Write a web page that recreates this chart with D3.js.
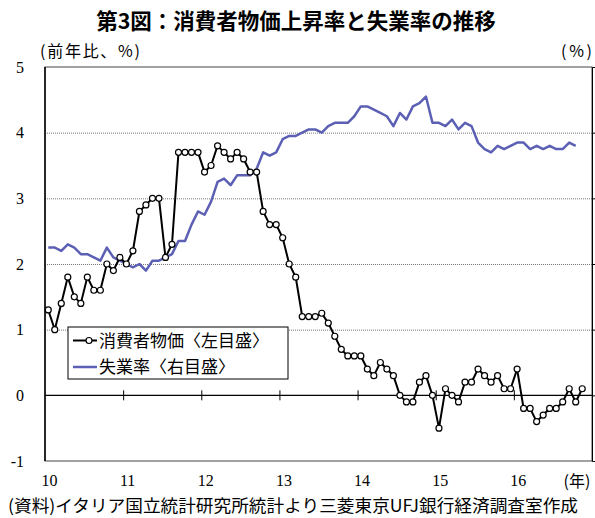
<!DOCTYPE html>
<html>
<head>
<meta charset="utf-8">
<script src="https://cdn.jsdelivr.net/npm/d3@7"></script>
<style>
    body { margin: 0; background: #fff; }
    svg text { fill: #000; }
    .jp { font-family: "Noto Sans CJK JP", sans-serif; }
</style>
</head>
<body>
<div id="chart"></div>
<script>
// monthly data, 2010/1 -
const years = ["10", "11", "12", "13", "14", "15", "16"];
// consumer prices, % yoy (left scale)
const cpi = [1.3, 1.0, 1.4, 1.8, 1.5, 1.4, 1.8, 1.6, 1.6, 2.0, 1.9, 2.1,
    2.0, 2.2, 2.8, 2.9, 3.0, 3.0, 2.1, 2.3, 3.7, 3.7, 3.7, 3.7,
    3.4, 3.5, 3.8, 3.7, 3.6, 3.7, 3.6, 3.4, 3.4, 2.8, 2.6, 2.6,
    2.4, 2.0, 1.8, 1.2, 1.2, 1.2, 1.25, 1.1, 0.9, 0.7, 0.6, 0.6,
    0.6, 0.4, 0.3, 0.5, 0.4, 0.3, 0.0, -0.1, -0.1, 0.2, 0.3, 0.0,
    -0.5, 0.1, 0.0, -0.1, 0.2, 0.2, 0.4, 0.3, 0.2, 0.3, 0.1, 0.1,
    0.4, -0.2, -0.2, -0.4, -0.3, -0.2, -0.2, -0.1, 0.1, -0.1, 0.1];
// unemployment rate, % (right scale)
const unemp = [8.5, 8.5, 8.4, 8.6, 8.5, 8.3, 8.3, 8.2, 8.1, 8.5, 8.2, 8.1,
    8.0, 7.9, 8.0, 7.8, 8.1, 8.1, 8.2, 8.3, 8.7, 8.7, 9.2, 9.6,
    9.5, 9.9, 10.5, 10.6, 10.4, 10.7, 10.7, 10.7, 10.9, 11.4, 11.3, 11.4,
    11.8, 11.9, 11.9, 12.0, 12.1, 12.1, 12.0, 12.2, 12.3, 12.3, 12.3, 12.5,
    12.8, 12.8, 12.7, 12.6, 12.5, 12.2, 12.6, 12.4, 12.8, 12.9, 13.1, 12.3,
    12.3, 12.2, 12.4, 12.1, 12.3, 12.2, 11.7, 11.5, 11.4, 11.6, 11.5, 11.6,
    11.7, 11.7, 11.5, 11.6, 11.5, 11.6, 11.5, 11.5, 11.7, 11.6];
const leftTicks = [-1, 0, 1, 2, 3, 4, 5];

const W = 595, H = 518;
const plot = { left: 45, right: 592, top: 67, bottom: 461 };
const serif = "'Liberation Serif', 'Times New Roman', serif";

let svg = d3.select("#chart").append("svg")
    .attr("width", W)
    .attr("height", H);

let x = d3.scaleLinear().domain([0, 84]).range([plot.left, plot.right]);
let y = d3.scaleLinear().domain([-1, 5]).range([plot.bottom, plot.top]);
let y2 = d3.scaleLinear().domain([2, 14]).range([plot.bottom, plot.top]);

// title
svg.append("text")
    .attr("class", "jp")
    .attr("x", 296)
    .attr("y", 29)
    .attr("text-anchor", "middle")
    .style("font-size", "21.5px")
    .style("font-weight", "bold")
    .text("第3図：消費者物価上昇率と失業率の推移");

svg.append("text")
    .attr("class", "jp")
    .attr("x", 40)
    .attr("y", 57)
    .attr("textLength", 100)
    .attr("lengthAdjust", "spacing")
    .style("font-size", "16px")
    .text("(前年比、%)");
svg.append("text")
    .attr("class", "jp")
    .attr("x", 561)
    .attr("y", 57)
    .attr("textLength", 31)
    .attr("lengthAdjust", "spacing")
    .style("font-size", "16px")
    .text("(%)");

// gridlines
svg.append("g")
    .attr("transform", "translate(" + plot.left + ",0)")
    .call(d3.axisLeft(y).tickValues([1, 2, 3, 4]).tickSize(-(plot.right - plot.left)).tickFormat(""))
    .call(g => g.select(".domain").remove())
    .selectAll("line")
    .attr("stroke", "#777")
    .attr("stroke-dasharray", "1,1");

// left tick labels
svg.append("g")
    .attr("transform", "translate(" + plot.left + ",0)")
    .call(d3.axisLeft(y).tickValues(leftTicks).tickSize(0).tickPadding(21).tickFormat(d => String(d)))
    .attr("font-family", serif)
    .attr("font-size", 16)
    .call(g => g.select(".domain").remove())
    .selectAll("text")
    .attr("fill", "#000");

// frame
svg.append("rect")
    .attr("x", plot.left)
    .attr("y", plot.top)
    .attr("width", plot.right - plot.left)
    .attr("height", plot.bottom - plot.top)
    .attr("fill", "none")
    .attr("stroke", "#444")
    .attr("stroke-width", 1);
svg.append("line")
    .attr("x1", plot.left).attr("x2", plot.left)
    .attr("y1", plot.top).attr("y2", plot.bottom)
    .attr("stroke", "#000")
    .attr("stroke-width", 1.5);

// right axis (no labels)
svg.append("g")
    .attr("transform", "translate(" + plot.right + ",0)")
    .call(d3.axisRight(y2).tickValues([4, 6, 8, 10, 12]).tickSize(3).tickFormat(""))
    .call(g => g.select(".domain").attr("stroke", "#000"));

// zero line with year ticks
let xAxis = svg.append("g")
    .attr("transform", "translate(0," + y(0) + ")")
    .call(d3.axisBottom(x).tickValues([12, 24, 36, 48, 60, 72]).tickSize(5).tickFormat(""));
xAxis.select(".domain").attr("d", "M" + plot.left + ",0H" + plot.right).attr("stroke", "#000").attr("stroke-width", 1.2);
xAxis.selectAll(".tick line").attr("y1", -5).attr("stroke", "#000");

// year labels
svg.append("g")
    .attr("transform", "translate(4," + plot.bottom + ")")
    .call(d3.axisBottom(x).tickValues(years.map((d, i) => i * 12)).tickSize(0).tickPadding(14)
        .tickFormat((d, i) => years[i]))
    .attr("font-family", serif)
    .attr("font-size", 16)
    .call(g => g.select(".domain").remove())
    .selectAll("text")
    .attr("fill", "#000");
svg.append("text")
    .attr("class", "jp")
    .attr("x", 577)
    .attr("y", 487)
    .attr("text-anchor", "middle")
    .style("font-size", "16px")
    .text("(年)");

// unemployment line
svg.append("path")
    .datum(unemp)
    .attr("fill", "none")
    .attr("stroke", "#5c60b4")
    .attr("stroke-width", 2.5)
    .attr("stroke-linejoin", "round")
    .attr("d", d3.line().x((d, i) => x(i + 0.5)).y(d => y2(d)));

// cpi line + markers
svg.append("path")
    .datum(cpi)
    .attr("fill", "none")
    .attr("stroke", "#000")
    .attr("stroke-width", 2)
    .attr("d", d3.line().x((d, i) => x(i + 0.5)).y(d => y(d)));
svg.selectAll("circle.cpi")
    .data(cpi)
    .enter()
    .append("circle")
    .attr("class", "cpi")
    .attr("cx", (d, i) => x(i + 0.5))
    .attr("cy", d => y(d))
    .attr("r", 3)
    .attr("fill", "#fff")
    .attr("stroke", "#000")
    .attr("stroke-width", 1.2);

// legend
let legend = svg.append("g").attr("transform", "translate(68,327)");
legend.append("rect")
    .attr("width", 220)
    .attr("height", 52)
    .attr("fill", "#fff")
    .attr("stroke", "#000")
    .attr("stroke-width", 1);
legend.append("line")
    .attr("x1", 5).attr("x2", 29).attr("y1", 13.5).attr("y2", 13.5)
    .attr("stroke", "#000").attr("stroke-width", 2);
legend.append("circle")
    .attr("cx", 21).attr("cy", 13.5).attr("r", 3)
    .attr("fill", "#fff").attr("stroke", "#000").attr("stroke-width", 1.2);
legend.append("line")
    .attr("x1", 5).attr("x2", 29).attr("y1", 40).attr("y2", 40)
    .attr("stroke", "#5c60b4").attr("stroke-width", 2.5);
legend.append("text")
    .attr("class", "jp")
    .attr("x", 31).attr("y", 19.5)
    .style("font-size", "17px")
    .text("消費者物価〈左目盛〉");
legend.append("text")
    .attr("class", "jp")
    .attr("x", 31).attr("y", 46)
    .style("font-size", "17px")
    .text("失業率〈右目盛〉");

// source
svg.append("text")
    .attr("class", "jp")
    .attr("x", 8)
    .attr("y", 512)
    .attr("textLength", 570)
    .attr("lengthAdjust", "spacingAndGlyphs")
    .style("font-size", "17px")
    .text("(資料)イタリア国立統計研究所統計より三菱東京UFJ銀行経済調査室作成");
</script>
</body>
</html>
